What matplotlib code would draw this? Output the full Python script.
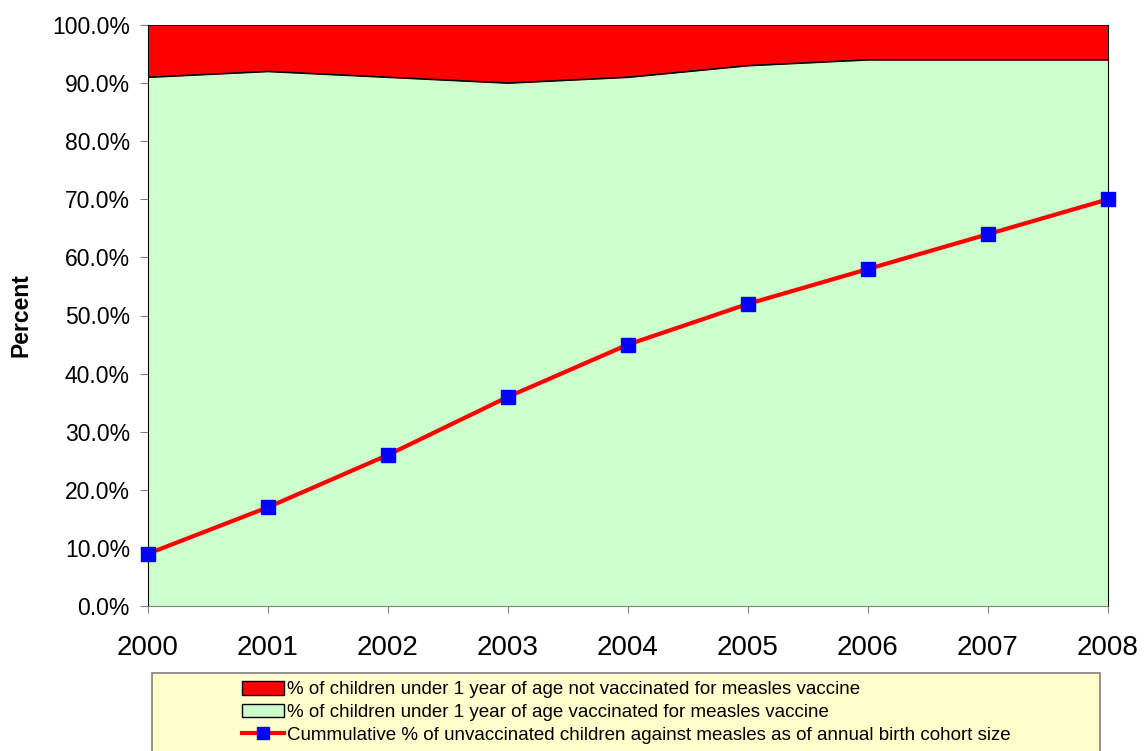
import matplotlib

matplotlib.use("Agg")
import matplotlib.pyplot as plt
from matplotlib.patches import Rectangle
from matplotlib.lines import Line2D
from matplotlib.ticker import FuncFormatter
import numpy as np

years = [2000, 2001, 2002, 2003, 2004, 2005, 2006, 2007, 2008]
vaccinated = [91, 92, 91, 90, 91, 93, 94, 94, 94]
not_vaccinated = [100 - v for v in vaccinated]
cumulative_unvacc = [9, 17, 26, 36, 45, 52, 58, 64, 70]

legend_labels = [
    "% of children under 1 year of age not vaccinated for measles vaccine",
    "% of children under 1 year of age vaccinated for measles vaccine",
    "Cummulative % of unvaccinated children against measles as of annual birth cohort size",
]

plt.rcParams["font.family"] = ["Liberation Sans", "DejaVu Sans"]

fig = plt.figure(figsize=(11.44, 7.51), dpi=100)
ax = fig.add_axes([148 / 1144, 1 - 606 / 751, 960 / 1144, 581 / 751])

x = np.array(years)
vac = np.array(vaccinated)
notv = np.array(not_vaccinated)
ax.fill_between(x, 0, vac, color="#CCFFCC", lw=0)
ax.fill_between(x, vac, vac + notv, color="#FF0000", lw=0)
ax.plot(x, vac, color="black", lw=1.2)
ax.plot(x, vac + notv, color="black", lw=1.2)
ax.plot(x, cumulative_unvacc, color="#FF0000", lw=3, marker="s", ms=10,
        mfc="#0000FF", mec="#0000FF", clip_on=False, zorder=5)

ax.set_xlim(years[0], years[-1])
ax.set_ylim(0, 100)
ax.set_xticks(years)
ax.set_yticks(np.arange(0, 101, 10))
ax.yaxis.set_major_formatter(FuncFormatter(lambda v, _: f"{v:.1f}%"))
ax.tick_params(axis="x", labelsize=20, direction="out", length=5, pad=16, color="#808080")
ax.tick_params(axis="y", labelsize=16.5, direction="out", length=6, pad=7, color="#808080")
for s in ["left", "right"]:
    ax.spines[s].set_color("black")
ax.spines["top"].set_visible(False)
ax.spines["bottom"].set_color("#808080")
ax.set_ylabel("Percent", fontsize=16.5, fontweight="bold", labelpad=14)

# legend box
fig.patches.append(Rectangle((152 / 1144, -0.01), 948 / 1144, 1 - 673 / 751 + 0.01,
                             transform=fig.transFigure, facecolor="#FFFFCC",
                             edgecolor="#808080", lw=1.2))
handles = [
    Rectangle((0, 0), 1, 1, facecolor="#FF0000", edgecolor="black", lw=1),
    Rectangle((0, 0), 1, 1, facecolor="#CCFFCC", edgecolor="black", lw=1),
    Line2D([], [], color="#FF0000", lw=3, marker="s", ms=9, mfc="#0000FF", mec="#0000FF"),
]
fig.legend(handles, legend_labels, loc="upper left", bbox_to_anchor=(233 / 1144, 1 - 672 / 751),
           frameon=False, handlelength=2.2, handleheight=0.7,
           handletextpad=0.2, labelspacing=0.3, borderpad=0,
           prop={"family": ["Liberation Sans"], "size": 13.5})

fig.savefig("out.png", dpi=100)
